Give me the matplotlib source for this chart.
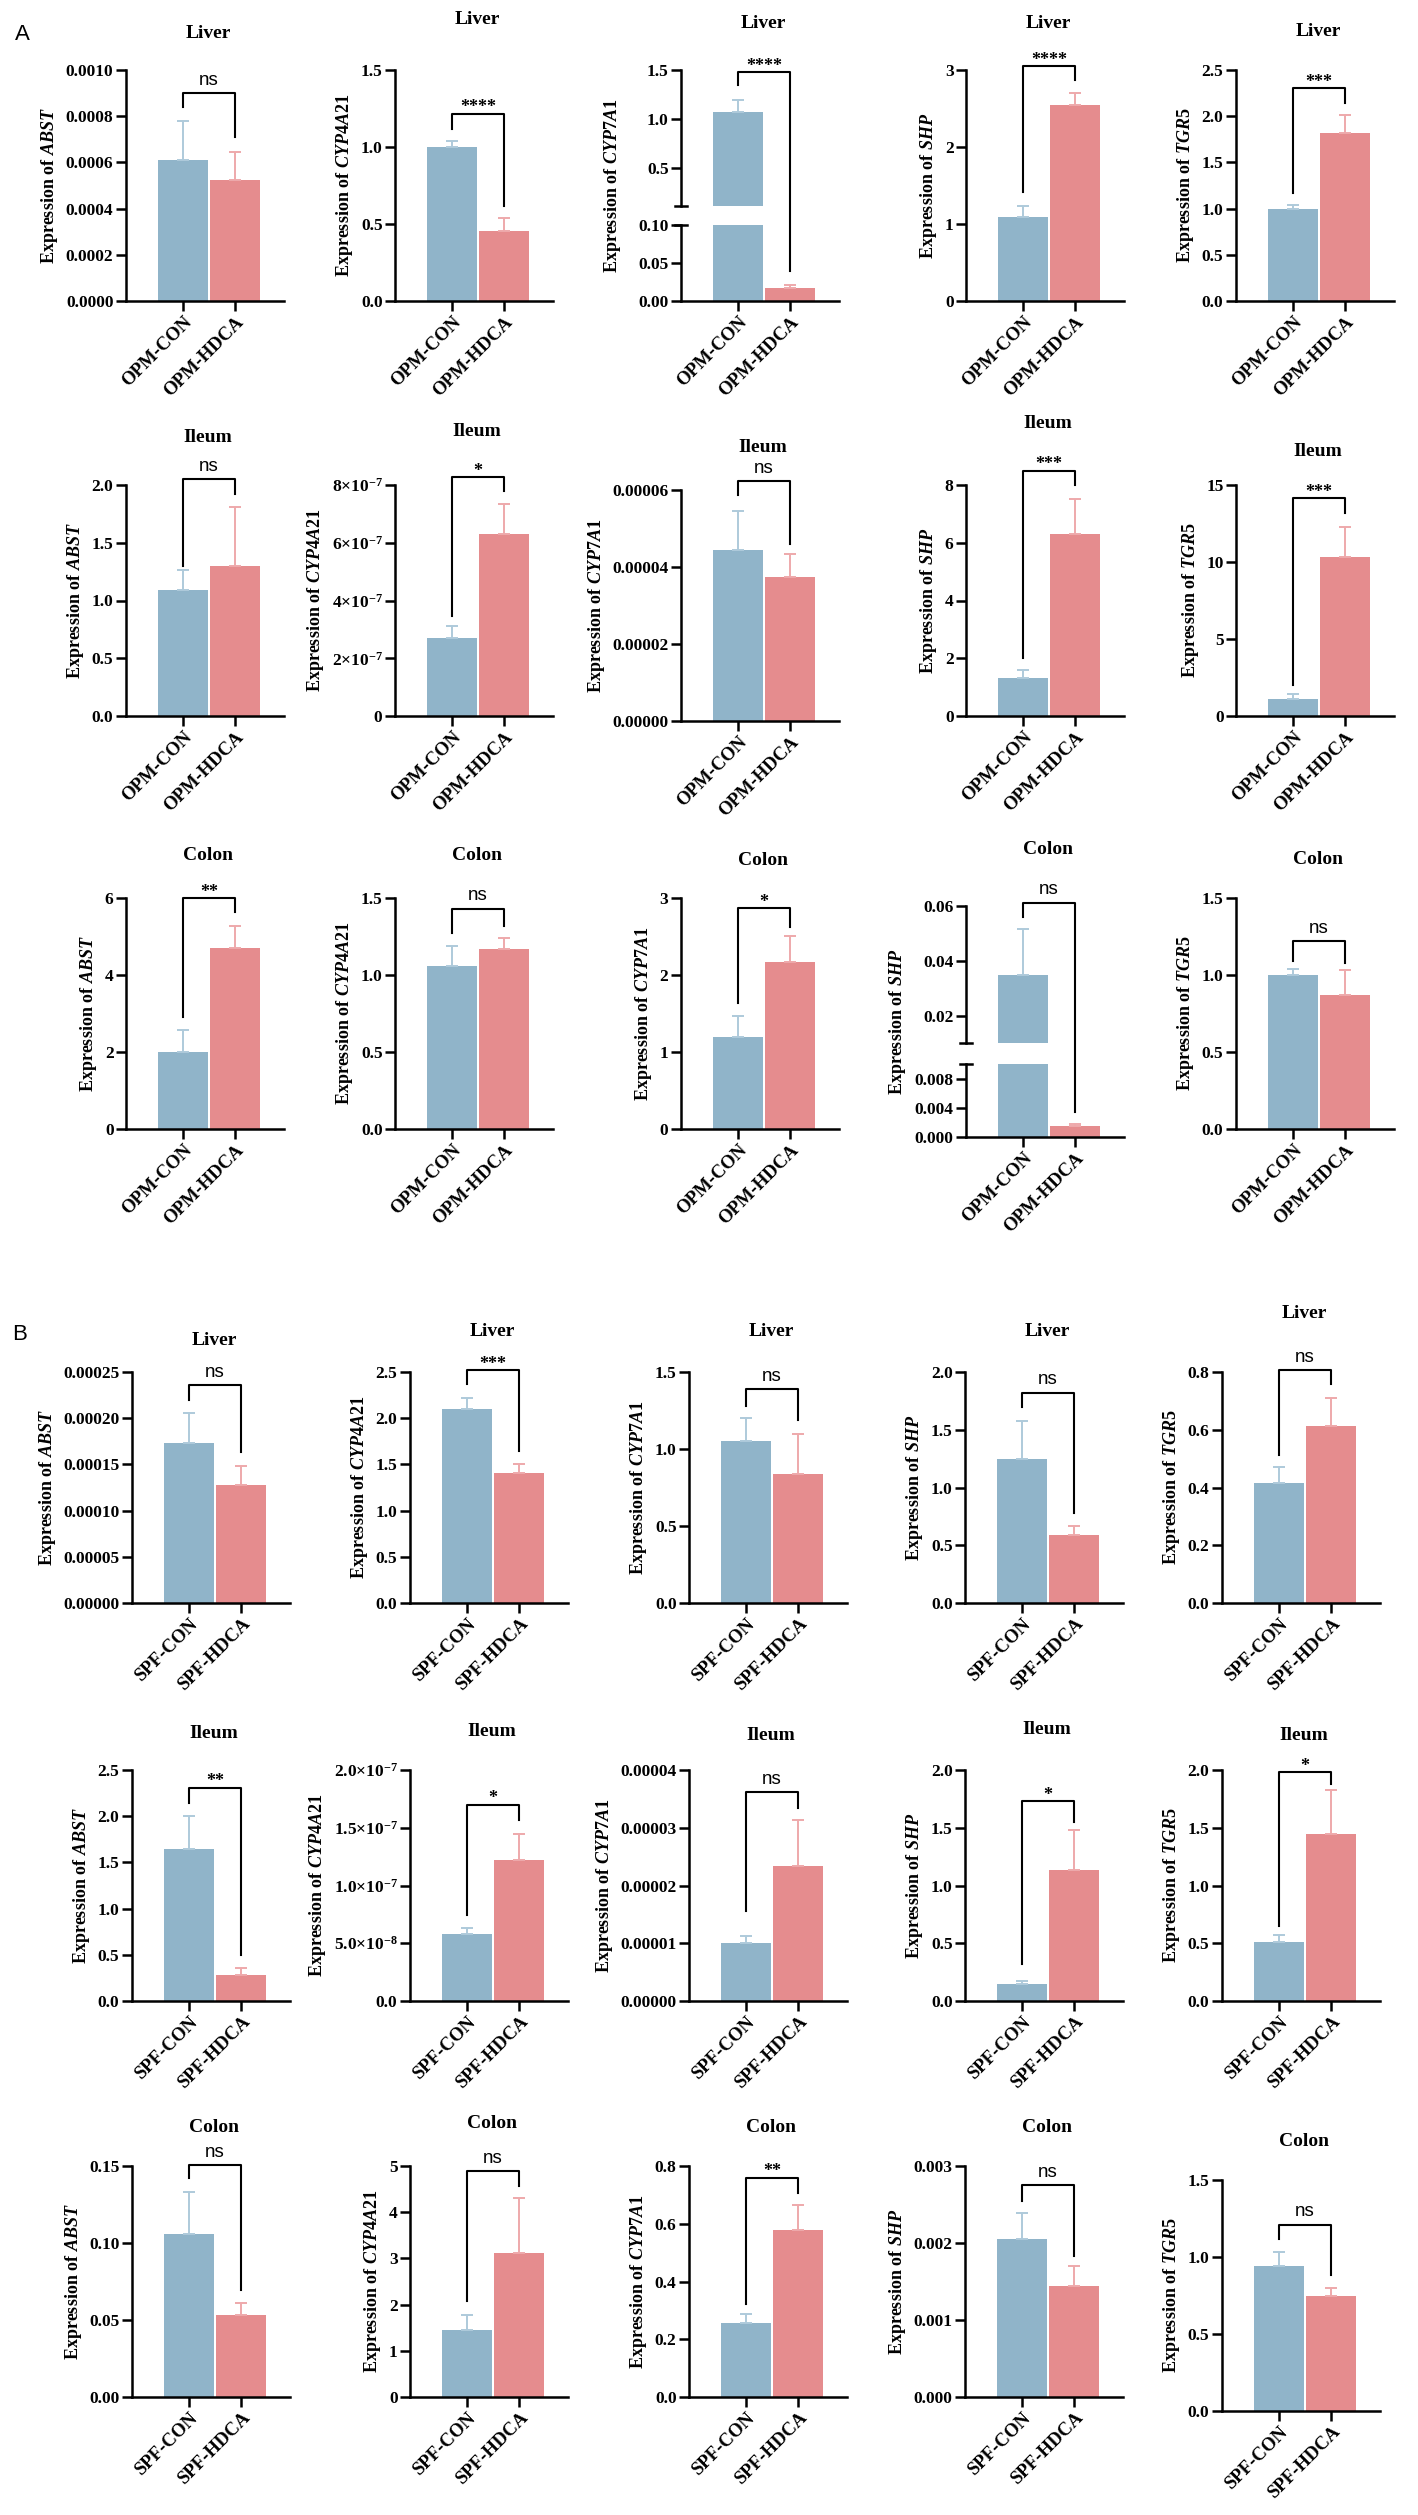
import matplotlib
matplotlib.use('Agg')
import matplotlib.pyplot as plt
from matplotlib.lines import Line2D

plt.rcParams['font.family'] = 'Liberation Serif'
plt.rcParams['font.weight'] = 'bold'
plt.rcParams['mathtext.fontset'] = 'custom'
plt.rcParams['mathtext.rm'] = 'Liberation Serif:bold'
plt.rcParams['mathtext.it'] = 'Liberation Serif:italic:bold'
plt.rcParams['mathtext.bf'] = 'Liberation Serif:bold'

genes = ['ABST', 'CYP4A21', 'CYP7A1', 'SHP', 'TGR5']
tissues = ['Liver', 'Ileum', 'Colon']
groups_a = ['OPM-CON', 'OPM-HDCA']
groups_b = ['SPF-CON', 'SPF-HDCA']

# section A (OPM), rows = tissues, columns = genes
a_con = [[0.00061, 1.00, 1.07, 1.086, 1.00],
         [1.09, 2.7e-7, 4.45e-5, 1.3, 1.1],
         [2.0, 1.06, 1.19, 0.035, 1.00]]
a_con_err = [[0.00017, 0.04, 0.12, 0.15, 0.035],
             [0.17, 0.42e-7, 1.0e-5, 0.3, 0.3],
             [0.57, 0.13, 0.28, 0.0165, 0.04]]
a_hdca = [[0.000525, 0.457, 0.017, 2.55, 1.82],
          [1.30, 6.31e-7, 3.75e-5, 6.3, 10.3],
          [4.71, 1.17, 2.17, 0.0015, 0.87]]
a_hdca_err = [[0.000122, 0.083, 0.004, 0.15, 0.19],
              [0.51, 1.02e-7, 0.6e-5, 1.21, 2.0],
              [0.56, 0.07, 0.34, 0.0003, 0.16]]
a_sig = [['ns', '****', '****', '****', '***'],
         ['ns', '*', 'ns', '***', '***'],
         ['**', 'ns', '*', 'ns', 'ns']]
# bracket (top, left leg end, right leg end)
a_brk = [[(0.0009, 0.00084, 0.00071), (1.216, 1.12, 0.62), (1.48, 1.35, 0.04),
          (3.05, 1.41, 2.87), (2.30, 1.17, 2.14)],
         [(2.05, 1.30, 1.92), (8.28e-7, 3.45e-7, 7.79e-7), (6.23e-5, 5.87e-5, 4.6e-5),
          (8.49, 2.0, 8.0), (14.13, 2.0, 13.16)],
         [(6.0, 2.9, 5.63), (1.43, 1.27, 1.32), (2.87, 1.63, 2.62),
          (0.0612, 0.0559, 0.0034), (1.22, 1.09, 1.08)]]
a_ticks = [[['0.0000', '0.0002', '0.0004', '0.0006', '0.0008', '0.0010'], ['0.0', '0.5', '1.0', '1.5'], None,
            ['0', '1', '2', '3'], ['0.0', '0.5', '1.0', '1.5', '2.0', '2.5']],
           [['0.0', '0.5', '1.0', '1.5', '2.0'], None, ['0.00000', '0.00002', '0.00004', '0.00006'],
            ['0', '2', '4', '6', '8'], ['0', '5', '10', '15']],
           [['0', '2', '4', '6'], ['0.0', '0.5', '1.0', '1.5'], ['0', '1', '2', '3'], None,
            ['0.0', '0.5', '1.0', '1.5']]]

# section B (SPF)
b_con = [[0.000173, 2.10, 1.05, 1.25, 0.414],
         [1.65, 0.58e-7, 1.0e-5, 0.15, 0.51],
         [0.106, 1.46, 0.255, 0.00205, 0.943]]
b_con_err = [[0.000033, 0.12, 0.15, 0.33, 0.058],
             [0.35, 0.055e-7, 0.13e-5, 0.02, 0.06],
             [0.027, 0.32, 0.031, 0.00034, 0.087]]
b_hdca = [[0.000128, 1.41, 0.84, 0.59, 0.614],
          [0.28, 1.22e-7, 2.33e-5, 1.13, 1.45],
          [0.053, 3.11, 0.578, 0.00144, 0.745]]
b_hdca_err = [[0.00002, 0.09, 0.26, 0.08, 0.097],
              [0.08, 0.23e-7, 0.8e-5, 0.35, 0.38],
              [0.008, 1.19, 0.087, 0.00026, 0.055]]
b_sig = [['ns', '***', 'ns', 'ns', 'ns'],
         ['**', '*', 'ns', '*', '*'],
         ['ns', 'ns', '**', 'ns', 'ns']]
b_brk = [[(0.000236, 0.00022, 0.000163), (2.52, 2.37, 1.64), (1.39, 1.28, 1.19),
          (1.82, 1.70, 0.78), (0.807, 0.513, 0.757)],
         [(2.31, 2.14, 0.5), (1.70e-7, 0.745e-7, 1.565e-7), (3.62e-5, 1.55e-5, 3.35e-5),
          (1.73, 0.32, 1.55), (1.98, 0.65, 1.88)],
         [(0.1506, 0.142, 0.0696), (4.89, 2.07, 4.57), (0.76, 0.323, 0.706),
          (0.00275, 0.00255, 0.00183), (1.21, 1.116, 0.885)]]
b_ticks = [[['0.00000', '0.00005', '0.00010', '0.00015', '0.00020', '0.00025'],
            ['0.0', '0.5', '1.0', '1.5', '2.0', '2.5'], ['0.0', '0.5', '1.0', '1.5'],
            ['0.0', '0.5', '1.0', '1.5', '2.0'], ['0.0', '0.2', '0.4', '0.6', '0.8']],
           [['0.0', '0.5', '1.0', '1.5', '2.0', '2.5'], None,
            ['0.00000', '0.00001', '0.00002', '0.00003', '0.00004'],
            ['0.0', '0.5', '1.0', '1.5', '2.0'], ['0.0', '0.5', '1.0', '1.5', '2.0']],
           [['0.00', '0.05', '0.10', '0.15'], ['0', '1', '2', '3', '4', '5'],
            ['0.0', '0.2', '0.4', '0.6', '0.8'], ['0.000', '0.001', '0.002', '0.003'],
            ['0.0', '0.5', '1.0', '1.5']]]

# ticks written as powers of ten
sci_ticks = {
    ('A', 1, 1): ([0, 2e-7, 4e-7, 6e-7, 8e-7],
                  ['0', r'$2{\times}10^{-7}$', r'$4{\times}10^{-7}$', r'$6{\times}10^{-7}$', r'$8{\times}10^{-7}$']),
    ('B', 1, 1): ([0, 5e-8, 1e-7, 1.5e-7, 2e-7],
                  ['0.0', r'$5.0{\times}10^{-8}$', r'$1.0{\times}10^{-7}$', r'$1.5{\times}10^{-7}$', r'$2.0{\times}10^{-7}$']),
}
# broken y axes: lower range, upper range and their ticks
breaks = {
    ('A', 0, 2): dict(low=(0, 0.10), high=(0.11, 1.5),
                      low_ticks=['0.00', '0.05', '0.10'], high_ticks=['0.5', '1.0', '1.5'],
                      sizes=(136, 19, 76)),
    ('A', 2, 3): dict(low=(0, 0.01), high=(0.01, 0.06),
                      low_ticks=['0.000', '0.004', '0.008'], high_ticks=['0.02', '0.04', '0.06'],
                      sizes=(137, 21, 73)),
}

BLUE = '#90B4C9'
RED = '#E58C8E'
BLUE_ERR = '#AECADB'
RED_ERR = '#EEA9AB'

W, H = 1418, 2515
AX_W, AX_H = 158, 231
fig = plt.figure(figsize=(W / 100, H / 100), dpi=100)

layout = {
    'A': dict(cols=[126, 395, 681, 966, 1236], rows=[70, 485, 898]),
    'B': dict(cols=[132, 410, 689, 965, 1222], rows=[1372, 1770, 2166]),
}
top_shift = {('A', 1, 2): 5, ('A', 2, 3): 8, ('B', 2, 4): 14}
title_gap = {
    'A': [[37, 50, 47, 47, 38], [48, 53, 43, 62, 33], [43, 42, 37, 56, 38]],
    'B': [[31, 41, 40, 41, 59], [36, 39, 34, 40, 34], [38, 42, 38, 38, 38]],
}


def rect(x, top, w, h):
    return [x / W, 1 - (top + h) / H, w / W, h / H]


def style(ax, bottom=True):
    ax.spines['top'].set_visible(False)
    ax.spines['right'].set_visible(False)
    ax.spines['left'].set_linewidth(1.8)
    ax.spines['bottom'].set_linewidth(1.8)
    ax.tick_params(axis='y', length=7, width=1.8, labelsize=12.5, pad=2)
    ax.tick_params(axis='x', length=7, width=1.8, labelsize=13.5, pad=2)
    if not bottom:
        ax.spines['bottom'].set_visible(False)
        ax.tick_params(axis='x', bottom=False, labelbottom=False)


def draw_bars(ax, vals, errs):
    ax.bar([0, 1], vals, width=0.96, color=[BLUE, RED], zorder=2)
    for i in range(2):
        ax.errorbar(i, vals[i], yerr=[[0], [errs[i]]], fmt='none',
                    ecolor=[BLUE_ERR, RED_ERR][i], elinewidth=1.4,
                    capsize=4.5, capthick=1.4, zorder=3)
    ax.set_xlim(-1.1, 1.94)


def xlabels(ax, groups):
    ax.set_xticks([0, 1])
    ax.set_xticklabels(groups, rotation=45, ha='right', va='top', rotation_mode='anchor')


def sig_text(ax, t, s):
    if s == 'ns':
        ax.annotate(s, (0.5, t), xytext=(0, 6), textcoords='offset points',
                    ha='center', va='baseline', family='Liberation Sans',
                    weight='normal', fontsize=13.5, annotation_clip=False)
    else:
        ax.annotate(s, (0.5, t), xytext=(0, 1), textcoords='offset points',
                    ha='center', va='baseline', fontsize=13, weight='bold',
                    annotation_clip=False)


def to_fig(ax, x, y):
    return fig.transFigure.inverted().transform(ax.transData.transform((x, y)))


sections = [
    ('A', groups_a, a_con, a_con_err, a_hdca, a_hdca_err, a_sig, a_brk, a_ticks),
    ('B', groups_b, b_con, b_con_err, b_hdca, b_hdca_err, b_sig, b_brk, b_ticks),
]

for sec, groups, con, con_err, hd, hd_err, sig, brk, ticks in sections:
    for r in range(3):
        for c in range(5):
            key = (sec, r, c)
            x = layout[sec]['cols'][c]
            top = layout[sec]['rows'][r] + top_shift.get(key, 0)
            vals = [con[r][c], hd[r][c]]
            errs = [con_err[r][c], hd_err[r][c]]
            t, yl, yr = brk[r][c]
            label = 'Expression of $\\mathit{' + genes[c] + '}$'

            fig.text((x + AX_W / 2 + 3) / W, 1 - (top - title_gap[sec][r][c]) / H,
                     tissues[r], ha='center', va='center', fontsize=14, weight='bold')

            if key in breaks:
                b = breaks[key]
                hu, gap, hl = b['sizes']
                ax_up = fig.add_axes(rect(x, top, AX_W, hu))
                ax_lo = fig.add_axes(rect(x, top + hu + gap, AX_W, hl))
                for ax, lim, tl in [(ax_up, b['high'], b['high_ticks']), (ax_lo, b['low'], b['low_ticks'])]:
                    draw_bars(ax, vals, errs)
                    ax.set_ylim(*lim)
                    ax.set_yticks([float(v) for v in tl])
                    ax.set_yticklabels(tl)
                style(ax_up, bottom=False)
                style(ax_lo)
                xlabels(ax_lo, groups)
                # small caps at the break
                ax_up.plot([-0.04, 0.04], [0, 0], color='black', lw=1.8,
                           transform=ax_up.transAxes, clip_on=False)
                ax_lo.plot([-0.04, 0.04], [1, 1], color='black', lw=1.8,
                           transform=ax_lo.transAxes, clip_on=False)
                ax_lo.set_ylabel(label, fontsize=13, weight='bold')
                ax_lo.yaxis.set_label_coords(-0.37, (hu + gap + hl) / 2 / hl)
                pts = [to_fig(ax_up, 0, yl), to_fig(ax_up, 0, t),
                       to_fig(ax_up, 1, t), to_fig(ax_lo, 1, yr)]
                fig.add_artist(Line2D([p[0] for p in pts], [p[1] for p in pts],
                                      color='black', lw=1.5, transform=fig.transFigure))
                sig_text(ax_up, t, sig[r][c])
                continue

            ax = fig.add_axes(rect(x, top, AX_W, AX_H))
            draw_bars(ax, vals, errs)
            if key in sci_ticks:
                tv, tl = sci_ticks[key]
            else:
                tl = ticks[r][c]
                tv = [float(v) for v in tl]
            ax.set_ylim(0, tv[-1])
            ax.set_yticks(tv)
            ax.set_yticklabels(tl)
            style(ax)
            xlabels(ax, groups)
            ax.set_ylabel(label, fontsize=13, weight='bold', labelpad=4)
            ax.plot([0, 0, 1, 1], [yl, t, t, yr], color='black', lw=1.5, clip_on=False)
            sig_text(ax, t, sig[r][c])

fig.text(22 / W, 1 - 34 / H, 'A', family='Liberation Sans', weight='normal',
         fontsize=16, ha='center', va='center')
fig.text(20 / W, 1 - 1335 / H, 'B', family='Liberation Sans', weight='normal',
         fontsize=16, ha='center', va='center')

fig.savefig('out.png', dpi=100, facecolor='white')
